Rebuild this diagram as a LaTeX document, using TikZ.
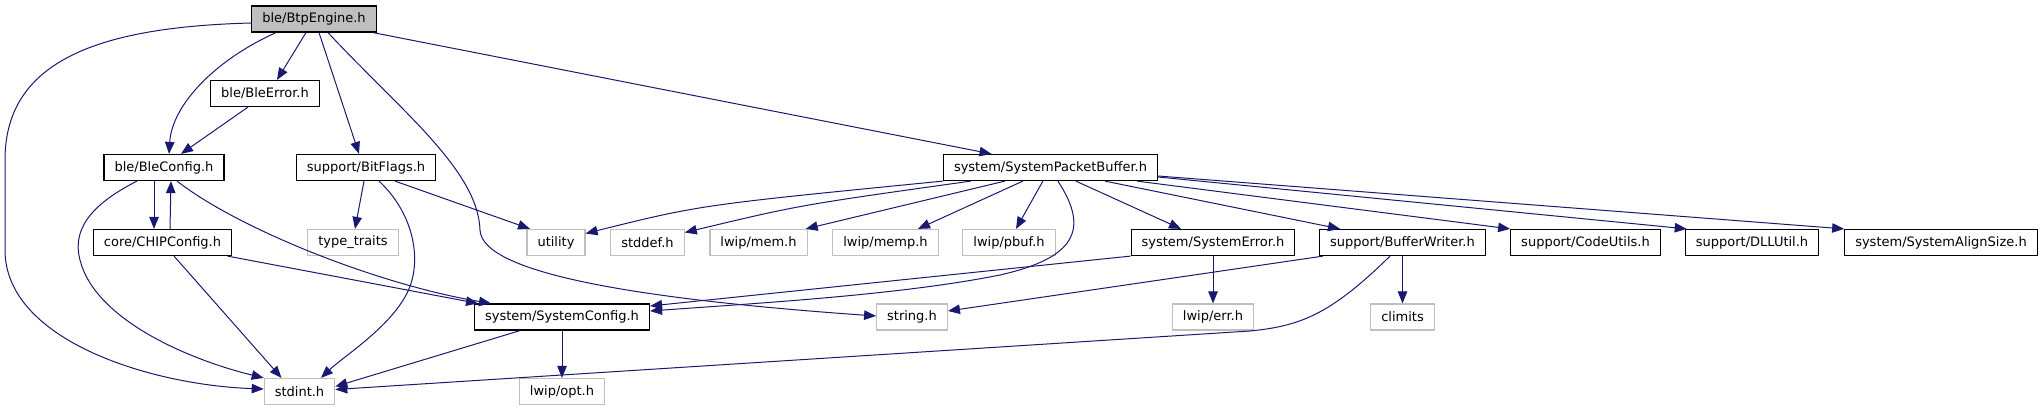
\documentclass[tikz,border=0pt]{standalone}
\usepackage{fontspec}
\setmainfont{DejaVu Sans}
\usepackage{xcolor}
\definecolor{incblue}{HTML}{191970}
\definecolor{extgray}{HTML}{BFBFBF}
\usetikzlibrary{arrows.meta}

\begin{document}
\begin{tikzpicture}[x=1pt, y=-1pt,
  every node/.style={font=\fontsize{13}{15}\selectfont, inner xsep=10.5pt,
                     inner ysep=0pt, minimum height=26pt, fill=white},
  hdr/.style={draw=black, line width=1.2pt},
  ext/.style={draw=extgray, line width=1.2pt},
  cur/.style={draw=black, fill=extgray, line width=1.2pt},
  inc/.style={draw=incblue, line width=1pt, -{Triangle[length=12pt, width=9.5pt]}}]

\useasboundingbox (0,0) rectangle (2044,411);

% Row 1: the header itself
\node[cur] (btp) at (314,19) {ble/BtpEngine.h};

% Row 2
\node[hdr] (bleerror) at (265,93.5) {ble/BleError.h};

% Row 3
\node[hdr] (bleconfig) at (164,167.5) {ble/BleConfig.h};
\node[hdr] (bitflags) at (366,167.5) {support/BitFlags.h};
\node[hdr] (spb) at (1050.5,167.5) {system/SystemPacketBuffer.h};

% Row 4
\node[hdr] (chipconfig) at (162.5,242.5) {core/CHIPConfig.h};
\node[ext] (typetraits) at (353,242.5) {type\_traits};
\node[ext] (utility) at (556,242.5) {utility};
\node[ext] (stddef) at (647.5,242.5) {stddef.h};
\node[ext] (lwipmem) at (758.5,242.5) {lwip/mem.h};
\node[ext] (lwipmemp) at (885.5,242.5) {lwip/memp.h};
\node[ext] (lwippbuf) at (1009,242.5) {lwip/pbuf.h};
\node[hdr] (syserror) at (1213,242.5) {system/SystemError.h};
\node[hdr] (bufwriter) at (1402.5,242.5) {support/BufferWriter.h};
\node[hdr] (codeutils) at (1585.5,242.5) {support/CodeUtils.h};
\node[hdr] (dllutil) at (1752,242.5) {support/DLLUtil.h};
\node[hdr] (alignsize) at (1941,242.5) {system/SystemAlignSize.h};

% Row 5
\node[hdr] (sysconfig) at (562,317) {system/SystemConfig.h};
\node[ext] (stringh) at (912,317) {string.h};
\node[ext] (lwiperr) at (1213,317) {lwip/err.h};
\node[ext] (climits) at (1402.5,317) {climits};

% Row 6
\node[ext] (stdint) at (299.5,391.5) {stdint.h};
\node[ext] (lwipopt) at (562,391.5) {lwip/opt.h};

% Includes of ble/BtpEngine.h
\draw[inc] ([yshift=-4pt]btp.west) .. controls (100,27) and (5,60) .. (5,160)
  -- (5,250) .. controls (5,340) and (150,385) .. ([yshift=2.5pt]stdint.west);
\draw[inc] ([xshift=-38pt]btp.south) .. controls (215,60) and (172,105) .. ([xshift=5pt]bleconfig.north);
\draw[inc] ([xshift=-8pt]btp.south) -- ([xshift=12pt]bleerror.north);
\draw[inc] ([xshift=5pt]btp.south) -- ([xshift=-7pt]bitflags.north);
\draw[inc] ([xshift=14pt]btp.south) .. controls (400,110) and (478,170) .. (480,230)
  .. controls (482,275) and (650,300) .. ([yshift=1pt]stringh.west);
\draw[inc] ([xshift=59pt]btp.south) -- ([xshift=-59pt]spb.north);

% ble headers
\draw[inc] ([xshift=-17pt]bleerror.south) -- ([xshift=17pt]bleconfig.north);
\draw[inc] ([xshift=-10pt]bleconfig.south) -- ([xshift=-8.5pt]chipconfig.north);
\draw[inc] ([xshift=7.5pt]chipconfig.north) -- ([xshift=7pt]bleconfig.south);
\draw[inc] ([xshift=-27pt]bleconfig.south) .. controls (90,205) and (72,230) .. (80,260)
  .. controls (95,320) and (190,360) .. (stdint.north west);
\draw[inc] ([xshift=13pt]bleconfig.south) .. controls (240,230) and (380,285) .. ([xshift=-71pt]sysconfig.north);
\draw[inc] ([xshift=65pt]chipconfig.south) -- ([xshift=-84pt]sysconfig.north);
\draw[inc] ([xshift=11.5pt]chipconfig.south) -- ([xshift=-18pt]stdint.north);

% support/BitFlags.h
\draw[inc] ([xshift=-2pt]bitflags.south) -- ([xshift=2pt]typetraits.north);
\draw[inc] ([xshift=29pt]bitflags.south) -- ([xshift=-26pt]utility.north);
\draw[inc] ([xshift=13pt]bitflags.south) .. controls (410,210) and (420,250) .. (412,280)
  .. controls (402,320) and (345,355) .. ([xshift=21.5pt]stdint.north);

% system/SystemPacketBuffer.h
\draw[inc] (spb.south west) .. controls (700,205) .. ([yshift=9pt]utility.east);
\draw[inc] ([xshift=28pt]spb.south west) .. controls (800,205) .. ([yshift=10pt]stddef.east);
\draw[inc] ([xshift=62pt]spb.south west) -- ([xshift=-2pt]lwipmem.north east);
\draw[inc] ([xshift=80pt]spb.south west) -- ([xshift=32.5pt]lwipmemp.north);
\draw[inc] ([xshift=100pt]spb.south west) -- ([xshift=7pt]lwippbuf.north);
\draw[inc] ([xshift=115pt]spb.south west) .. controls (1090,230) and (1075,258) .. (1000,275)
  .. controls (900,295) and (760,303) .. ([yshift=6pt]sysconfig.east);
\draw[inc] ([xshift=133pt]spb.south west) -- ([xshift=-32pt]syserror.north);
\draw[inc] ([xshift=162pt]spb.south west) -- ([xshift=-62.5pt]bufwriter.north);
\draw[inc] ([xshift=194pt]spb.south west) -- (codeutils.north west);
\draw[inc] ([yshift=-9.5pt]spb.east) -- ([xshift=2pt]dllutil.north west);
\draw[inc] ([yshift=-8.5pt]spb.east) -- (alignsize.north west);

% system/SystemError.h
\draw[inc] (syserror.south west) -- ([yshift=11pt]sysconfig.east);
\draw[inc] (syserror.south) -- (lwiperr.north);

% support/BufferWriter.h
\draw[inc] ([xshift=4pt]bufwriter.south west) -- ([yshift=6pt]stringh.east);
\draw[inc] ([xshift=-12.5pt]bufwriter.south) .. controls (1330,315) and (1300,326) .. (1250,331)
  -- ([yshift=2pt]stdint.east);
\draw[inc] (bufwriter.south) -- (climits.north);

% system/SystemConfig.h
\draw[inc] ([xshift=-42pt]sysconfig.south) -- ([yshift=5pt]stdint.east);
\draw[inc] (sysconfig.south) -- (lwipopt.north);

\end{tikzpicture}
\end{document}
